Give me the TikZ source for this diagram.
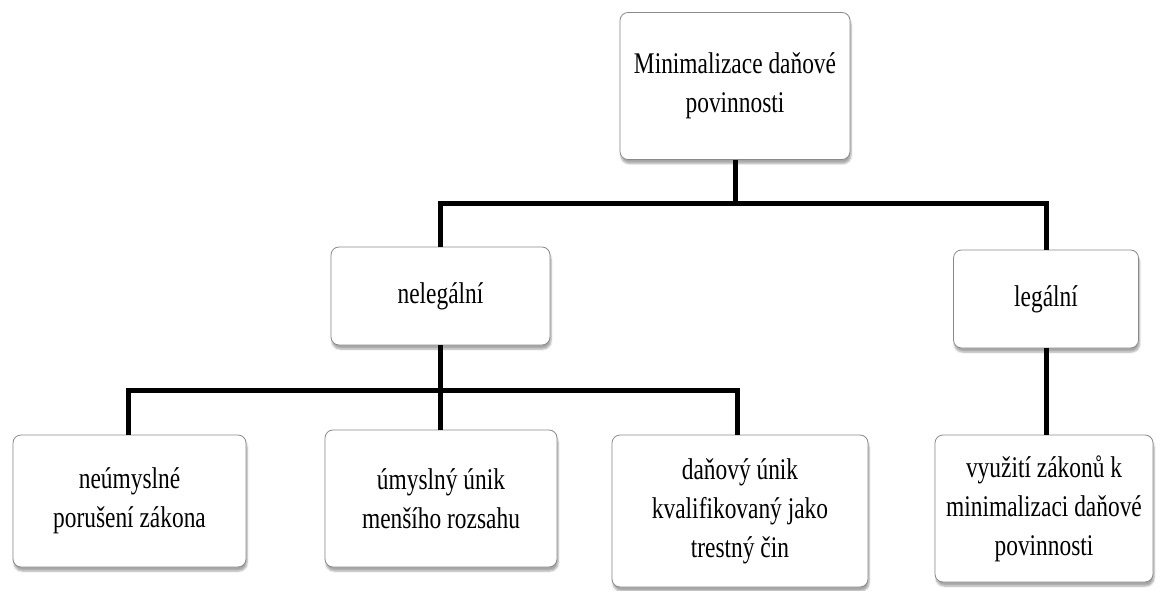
\documentclass[tikz,border=0pt]{standalone}
\usepackage{fontspec}
\setmainfont{Liberation Serif}[FakeStretch=0.78]
\usepackage{tikz}
\usepackage{xcolor}
\usetikzlibrary{calc,positioning,shadows.blur}
\definecolor{BoxEdge}{HTML}{8A8A8A}
\tikzset{
  taxbox/.style={draw=BoxEdge, fill=white, rounded corners=8pt, align=center, inner sep=3pt, line width=0.8pt,
    font=\fontsize{30}{39}\selectfont,
    blur shadow={shadow xshift=1pt, shadow yshift=-4pt, shadow blur steps=6, shadow opacity=35}},
  taxbar/.style={line width=5pt, draw=black}
}
\begin{document}
\begin{tikzpicture}[x=1pt, y=-1pt]
  \useasboundingbox (0,0) rectangle (1157,591);
  \node[taxbox, minimum width=230pt, minimum height=147pt] (top) at (735,86) {Minimalizace daňové\\povinnosti};
  \node[taxbox, minimum width=219pt, minimum height=98pt] (nel) at (440.5,296) {nelegální};
  \node[taxbox, minimum width=185pt, minimum height=98pt] (leg) at (1046,299) {legální};
  \node[taxbox, minimum width=233pt, minimum height=132pt] (neum) at (129.5,501) {neúmyslné\\porušení zákona};
  \node[taxbox, minimum width=232pt, minimum height=137pt] (umys) at (441,498.5) {úmyslný únik\\menšího rozsahu};
  \node[taxbox, minimum width=256pt, minimum height=152pt] (trest) at (740,511) {daňový únik\\kvalifikovaný jako\\trestný čin};
  \node[taxbox, minimum width=218pt, minimum height=147pt] (vyuz) at (1044,508.5) {využití zákonů k\\minimalizaci daňové\\povinnosti};
  % junctions of the bars
  \coordinate (jtop) at (735,203);
  \coordinate (jnel) at (440.5,390);
  \draw[taxbar] (top) -- (jtop);
  \draw[taxbar] (jtop) -| (nel);
  \draw[taxbar] (jtop) -| (leg);
  \draw[taxbar] (nel) -- (jnel);
  \draw[taxbar] (jnel) -| ([xshift=-1.5pt]neum.north);
  \draw[taxbar] (jnel) -- (jnel |- umys.north);
  \draw[taxbar] (jnel) -| ([xshift=-3pt]trest.north);
  \draw[taxbar] (leg) -- (leg |- vyuz.north);
\end{tikzpicture}
\end{document}
